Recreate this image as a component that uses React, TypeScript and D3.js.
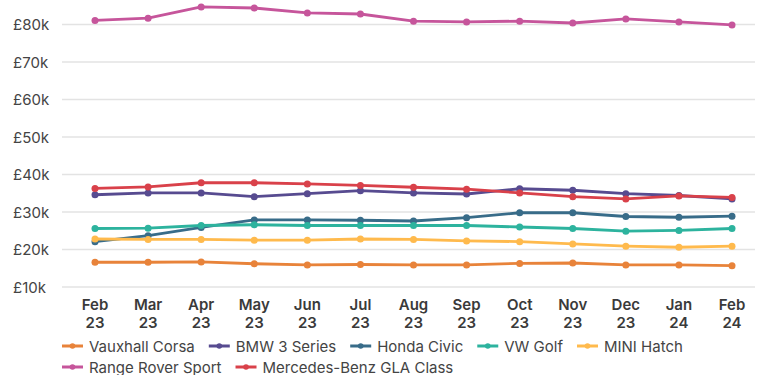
import { useEffect, useRef } from 'react';
import * as d3 from 'd3';

const months = ['Feb 23', 'Mar 23', 'Apr 23', 'May 23', 'Jun 23', 'Jul 23', 'Aug 23', 'Sep 23', 'Oct 23', 'Nov 23', 'Dec 23', 'Jan 24', 'Feb 24'];
const yTicks = [10000, 20000, 30000, 40000, 50000, 60000, 70000, 80000];

const vauxhallCorsa = [16600, 16600, 16700, 16200, 15900, 16000, 15900, 15900, 16300, 16400, 15900, 15900, 15700];
const bmw3Series = [34600, 35100, 35100, 34100, 34900, 35700, 35100, 34800, 36200, 35800, 34900, 34400, 33500];
const hondaCivic = [22100, 23700, 25900, 27900, 27900, 27800, 27600, 28500, 29800, 29800, 28800, 28600, 28900];
const vwGolf = [25600, 25700, 26400, 26600, 26400, 26400, 26400, 26400, 26000, 25600, 24900, 25100, 25600];
const miniHatch = [22800, 22700, 22700, 22500, 22500, 22800, 22700, 22300, 22100, 21500, 20900, 20600, 20900];
const rangeRoverSport = [81100, 81700, 84700, 84400, 83100, 82800, 80900, 80700, 80900, 80400, 81500, 80700, 79900];
const mercedesGla = [36300, 36700, 37800, 37800, 37500, 37100, 36600, 36100, 35100, 34100, 33500, 34300, 33900];

const series = [
  { name: 'Vauxhall Corsa', color: '#E8833A', values: vauxhallCorsa },
  { name: 'BMW 3 Series', color: '#574B90', values: bmw3Series },
  { name: 'Honda Civic', color: '#386C89', values: hondaCivic },
  { name: 'VW Golf', color: '#2DB39E', values: vwGolf },
  { name: 'MINI Hatch', color: '#FFBA4D', values: miniHatch },
  { name: 'Range Rover Sport', color: '#C6559B', values: rangeRoverSport },
  { name: 'Mercedes-Benz GLA Class', color: '#D9414A', values: mercedesGla },
];

const font = 'Inter, "Noto Sans", sans-serif';

export default function App() {
  const ref = useRef<SVGSVGElement>(null);

  useEffect(() => {
    document.body.style.margin = '0';
    const svg = d3.select(ref.current);
    svg.selectAll('*').remove();

    const x = d3.scalePoint().domain(months).range([95, 732]);
    const y = d3.scaleLinear().domain([10000, 80000]).range([287, 24.5]);

    // grid + y labels
    const grid = svg.append('g');
    grid.selectAll('line')
      .data(yTicks)
      .enter()
      .append('line')
      .attr('x1', 62)
      .attr('x2', 755)
      .attr('y1', (d) => y(d))
      .attr('y2', (d) => y(d))
      .attr('stroke', '#e3e3e3')
      .attr('stroke-width', 1.5);
    grid.selectAll('text')
      .data(yTicks)
      .enter()
      .append('text')
      .attr('x', 13)
      .attr('y', (d) => y(d) + 5.5)
      .attr('font-family', font)
      .attr('font-size', 15)
      .attr('fill', '#444')
      .text((d) => '£' + d / 1000 + 'k');

    // x labels
    const xl = svg.append('g')
      .attr('font-family', font)
      .attr('font-size', 15)
      .attr('font-weight', 600)
      .attr('fill', '#3a3a3a')
      .attr('text-anchor', 'middle');
    months.forEach((m) => {
      const [mon, yr] = m.split(' ');
      const t = xl.append('text').attr('x', x(m) || 0).attr('y', 310);
      t.append('tspan').attr('x', x(m) || 0).text(mon);
      t.append('tspan').attr('x', x(m) || 0).attr('dy', 17.5).text(yr);
    });

    const line = d3.line<number>()
      .x((_, i) => x(months[i]) || 0)
      .y((d) => y(d));

    series.forEach((s) => {
      const g = svg.append('g');
      g.append('path')
        .datum(s.values)
        .attr('d', line)
        .attr('fill', 'none')
        .attr('stroke', s.color)
        .attr('stroke-width', 2.8)
        .attr('stroke-linejoin', 'round');
      g.selectAll('circle')
        .data(s.values)
        .enter()
        .append('circle')
        .attr('cx', (_, i) => x(months[i]) || 0)
        .attr('cy', (d) => y(d))
        .attr('r', 3.5)
        .attr('fill', s.color);
    });

    // legend, two rows
    const rows = [series.slice(0, 5), series.slice(5)];
    rows.forEach((row, ri) => {
      let lx = 62;
      const cy = 346 + ri * 21;
      row.forEach((s) => {
        const g = svg.append('g');
        g.append('line')
          .attr('x1', lx).attr('x2', lx + 21)
          .attr('y1', cy).attr('y2', cy)
          .attr('stroke', s.color).attr('stroke-width', 3);
        g.append('circle').attr('cx', lx + 10.5).attr('cy', cy).attr('r', 2.8).attr('fill', s.color);
        const t = g.append('text')
          .attr('x', lx + 27)
          .attr('y', cy + 5.5)
          .attr('font-family', font)
          .attr('font-size', 15)
          .attr('fill', '#444')
          .text(s.name);
        const w = (t.node() as SVGTextElement).getComputedTextLength();
        lx = lx + 27 + w + 14;
      });
    });
  }, []);

  return <svg ref={ref} width={757} height={375} style={{ display: 'block' }}></svg>;
}
